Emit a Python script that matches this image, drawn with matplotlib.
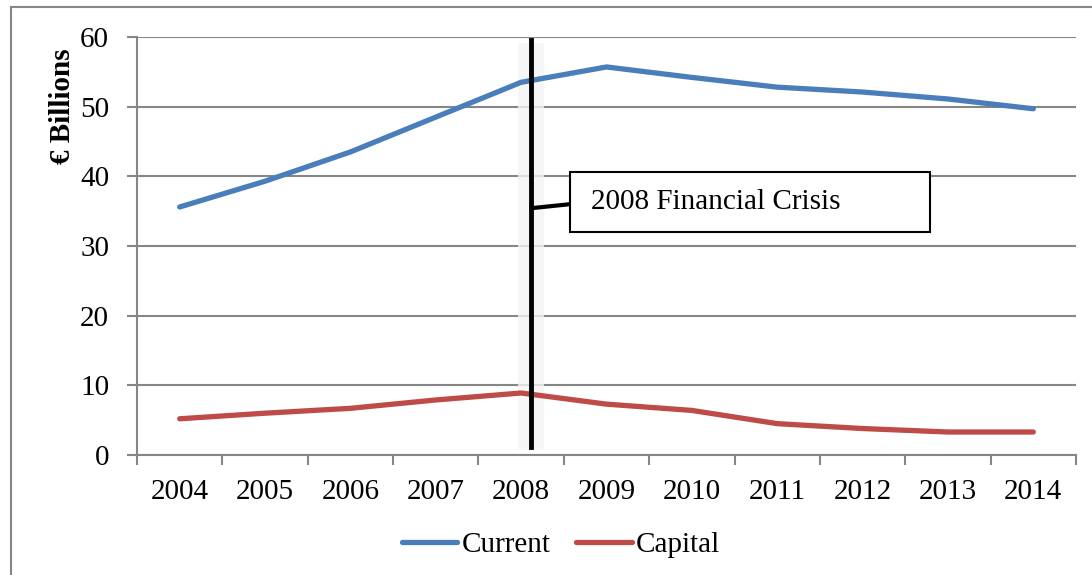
import matplotlib
matplotlib.use("Agg")
import matplotlib.pyplot as plt
from matplotlib.lines import Line2D
from matplotlib.patches import Rectangle

years = ["2004", "2005", "2006", "2007", "2008", "2009", "2010", "2011", "2012", "2013", "2014"]
current = [35.6, 39.3, 43.5, 48.5, 53.5, 55.7, 54.2, 52.8, 52.1, 51.1, 49.7]
capital = [5.2, 6.0, 6.7, 7.9, 8.9, 7.3, 6.4, 4.5, 3.8, 3.3, 3.3]
yticks = [0, 10, 20, 30, 40, 50, 60]
annotation = "2008 Financial Crisis"

W, H = 1092, 575
fig = plt.figure(figsize=(W / 100, H / 100), dpi=100)
serif = ["Liberation Serif", "DejaVu Serif"]
FS = 21

L, R, T, B = 137, 1076, 37, 455
ax = fig.add_axes([L / W, 1 - B / H, (R - L) / W, (B - T) / H])

x = list(range(len(years)))
blue = "#4A7EBB"
red = "#BE4B48"
ax.plot(x, current, color=blue, lw=3.8, solid_capstyle="round", label="Current", zorder=3)
ax.plot(x, capital, color=red, lw=3.8, solid_capstyle="round", label="Capital", zorder=3)

ax.set_xlim(-0.5, len(years) - 0.5)
ax.set_ylim(0, 60)
ax.set_yticks(yticks)
ax.set_yticklabels([str(v) for v in yticks], fontsize=FS, family=serif)
ax.set_xticks(x)
ax.set_xticklabels(years, fontsize=FS, family=serif)
ax.set_xticks([i - 0.5 for i in range(len(years) + 1)], minor=True)
ax.tick_params(axis="x", which="major", length=0, pad=17)
ax.tick_params(axis="x", which="minor", length=7, width=1.5, color="#868686", direction="out")
ax.tick_params(axis="y", length=7, width=1.5, color="#868686", pad=13)
ax.grid(axis="y", color="#868686", lw=1.5)
ax.set_axisbelow(True)
for s in ["top", "right"]:
    ax.spines[s].set_visible(False)
for s in ["left", "bottom"]:
    ax.spines[s].set_color("#868686")
    ax.spines[s].set_linewidth(1.5)

# crisis marker line
xl = 4 + (531 - 521) / 85.4
ax.add_patch(Rectangle((xl - 0.15, 0.8), 0.3, 58.4, facecolor="#f4f4f4", edgecolor="none", zorder=2.5, alpha=0.8))
ax.plot([xl, xl], [1.2, 59.6], color="black", lw=3.5, zorder=4)

# callout
bx0, bx1, by0, by1 = 4.57, 8.786, 32.0, 40.6
ax.add_patch(Rectangle((bx0, by0), bx1 - bx0, by1 - by0, facecolor="white", edgecolor="black", lw=1.5, zorder=5))
ax.plot([xl + 0.02, bx0], [35.45, 36.0], color="black", lw=3, zorder=4)
ax.text(4.816, 36.3, annotation, fontsize=FS, family=serif, va="center", ha="left", zorder=6)

fig.text(62 / W, 1 - 106 / H, "€ Billions", rotation=90, ha="center", va="center",
         fontsize=FS, fontweight="bold", family=serif)

leg = fig.legend(handles=[Line2D([], [], color=blue, lw=3.8, solid_capstyle="round"),
                          Line2D([], [], color=red, lw=3.8, solid_capstyle="round")],
                 labels=["Current", "Capital"], loc="center", bbox_to_anchor=(561 / W, 1 - 545 / H),
                 ncol=2, frameon=False, prop={"family": serif, "size": FS},
                 handlelength=1.9, handletextpad=0.15, columnspacing=0.9)

# outer frame
fig.add_artist(Line2D([11 / W, 11 / W], [0, 1 - 7 / H], color="#878787", lw=1.5))
fig.add_artist(Line2D([11 / W, 1], [1 - 7 / H, 1 - 7 / H], color="#878787", lw=1.5))

fig.savefig("out.png", dpi=100)
